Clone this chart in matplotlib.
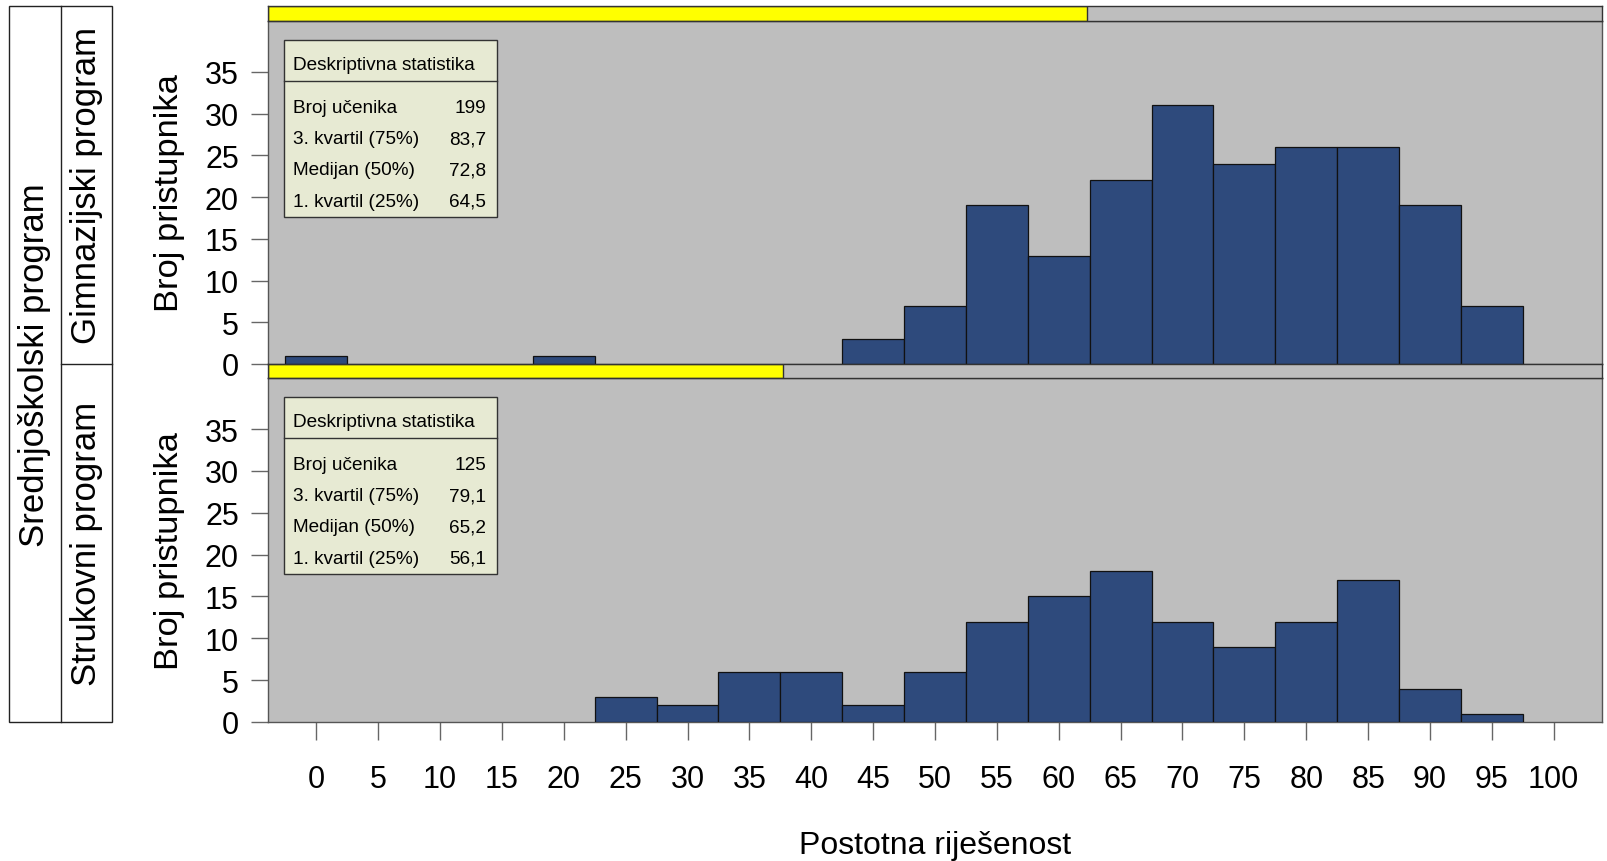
import matplotlib
matplotlib.use('Agg')
import matplotlib.pyplot as plt
from matplotlib.patches import Rectangle
from matplotlib.lines import Line2D
import numpy as np

plt.rcParams['font.family'] = ['Liberation Sans', 'DejaVu Sans']

# histogram bins (centres) and counts per panel
bins = [0, 5, 10, 15, 20, 25, 30, 35, 40, 45, 50, 55, 60, 65, 70, 75, 80, 85, 90, 95, 100]
gimnazija = [1, 0, 0, 0, 1, 0, 0, 0, 0, 3, 7, 19, 13, 22, 31, 24, 26, 26, 19, 7, 0]
strukovni = [0, 0, 0, 0, 0, 3, 2, 6, 6, 2, 6, 12, 15, 18, 12, 9, 12, 17, 4, 1, 0]

panel_names = ["Gimnazijski program", "Strukovni program"]
outer_name = "Srednjoškolski program"

stat_labels = ["Broj učenika", "3. kvartil (75%)", "Medijan (50%)", "1. kvartil (25%)"]
stats_gim = ["199", "83,7", "72,8", "64,5"]
stats_str = ["125", "79,1", "65,2", "56,1"]

xticks = list(range(0, 101, 5))
yticks = list(range(0, 36, 5))

bar_color = '#2E4A7C'
panel_bg = '#BEBEBE'
box_bg = '#E7EAD3'
frame_col = '#555555'

W, H = 1608, 862
fig = plt.figure(figsize=(W / 100, H / 100), dpi=100)

def fx(px):
    return px / W

def fy(py):
    return 1 - py / H

# (strip top, panel top, panel bottom) in pixels
layout = [(7, 22, 365), (365, 379, 723)]
left_px, right_px = 268, 1602
total = sum(gimnazija) + sum(strukovni)

for i, (counts, stats) in enumerate([(gimnazija, stats_gim), (strukovni, stats_str)]):
    st, pt, pb = layout[i]
    ax = fig.add_axes([fx(left_px), fy(pb), fx(right_px - left_px), (pb - pt) / H])
    ax.set_facecolor(panel_bg)
    xs = [b for b, c in zip(bins, counts) if c > 0]
    hs = [c for c in counts if c > 0]
    ax.bar(xs, hs, width=5, color=bar_color, edgecolor='#111111', linewidth=0.9, zorder=3)
    ax.set_xlim(-3.9, 103.9)
    ax.set_ylim(0, 41.1)
    ax.set_yticks(yticks)
    ax.tick_params(axis='y', length=12, width=1, color='#666666', pad=9, labelsize=22)
    if i == 1:
        ax.set_xticks(xticks)
        ax.tick_params(axis='x', length=13, width=1, color='#666666', pad=17, labelsize=22)
        ax.set_xlabel("Postotna riješenost", fontsize=23, labelpad=26)
    else:
        ax.set_xticks([])
    ax.set_ylabel("Broj pristupnika", fontsize=24.8, labelpad=14)
    for s in ax.spines.values():
        s.set_color(frame_col)
        s.set_linewidth(1)

    # stats box
    h_ax = pb - pt
    def ay(py):
        return (pb - py) / h_ax
    w_ax = right_px - left_px
    def axx(px):
        return (px - left_px) / w_ax
    ax.add_patch(Rectangle((axx(284), ay(pt + 196)), axx(497) - axx(284), ay(pt + 19) - ay(pt + 196),
                           transform=ax.transAxes, facecolor=box_bg, edgecolor='#333333',
                           linewidth=1, zorder=5))
    ax.add_line(Line2D([axx(284), axx(497)], [ay(pt + 60), ay(pt + 60)], transform=ax.transAxes,
                       color='#333333', linewidth=1, zorder=6))
    ax.text(axx(293), ay(pt + 43.5), "Deskriptivna statistika", transform=ax.transAxes,
            fontsize=13.7, va='center', ha='left', zorder=7)
    for k, (lab, val) in enumerate(zip(stat_labels, stats)):
        yy = ay(pt + 86.5 + k * 31.2)
        ax.text(axx(293), yy, lab, transform=ax.transAxes, fontsize=13.7, va='center', ha='left', zorder=7)
        ax.text(axx(486), yy, val, transform=ax.transAxes, fontsize=13.7, va='center', ha='right', zorder=7)

    # strip with proportion bar
    sax = fig.add_axes([fx(left_px), fy(pt), fx(right_px - left_px), (pt - st) / H])
    sax.set_facecolor(panel_bg)
    sax.set_xlim(0, 1)
    sax.set_ylim(0, 1)
    frac = sum(counts) / total
    sax.add_patch(Rectangle((0, 0), frac, 1, facecolor='#FFFF00', edgecolor='#333333', linewidth=1))
    sax.set_xticks([])
    sax.set_yticks([])
    for s in sax.spines.values():
        s.set_color('#333333')
        s.set_linewidth(1)

# left label boxes
lab_ax = fig.add_axes([0, 0, 1, 1], facecolor='none')
lab_ax.set_xlim(0, W)
lab_ax.set_ylim(H, 0)
lab_ax.axis('off')
lab_ax.add_patch(Rectangle((9, 7), 103, 716, facecolor='white', edgecolor='#222222', linewidth=1))
lab_ax.plot([61, 61], [7, 723], color='#222222', linewidth=1)
lab_ax.plot([61, 112], [365, 365], color='#222222', linewidth=1)
lab_ax.text(35, 365, outer_name, rotation=90, ha='center', va='center', fontsize=25)
lab_ax.text(87, 186, panel_names[0], rotation=90, ha='center', va='center', fontsize=25)
lab_ax.text(87, 544, panel_names[1], rotation=90, ha='center', va='center', fontsize=25)

plt.savefig('out.png', dpi=100)
